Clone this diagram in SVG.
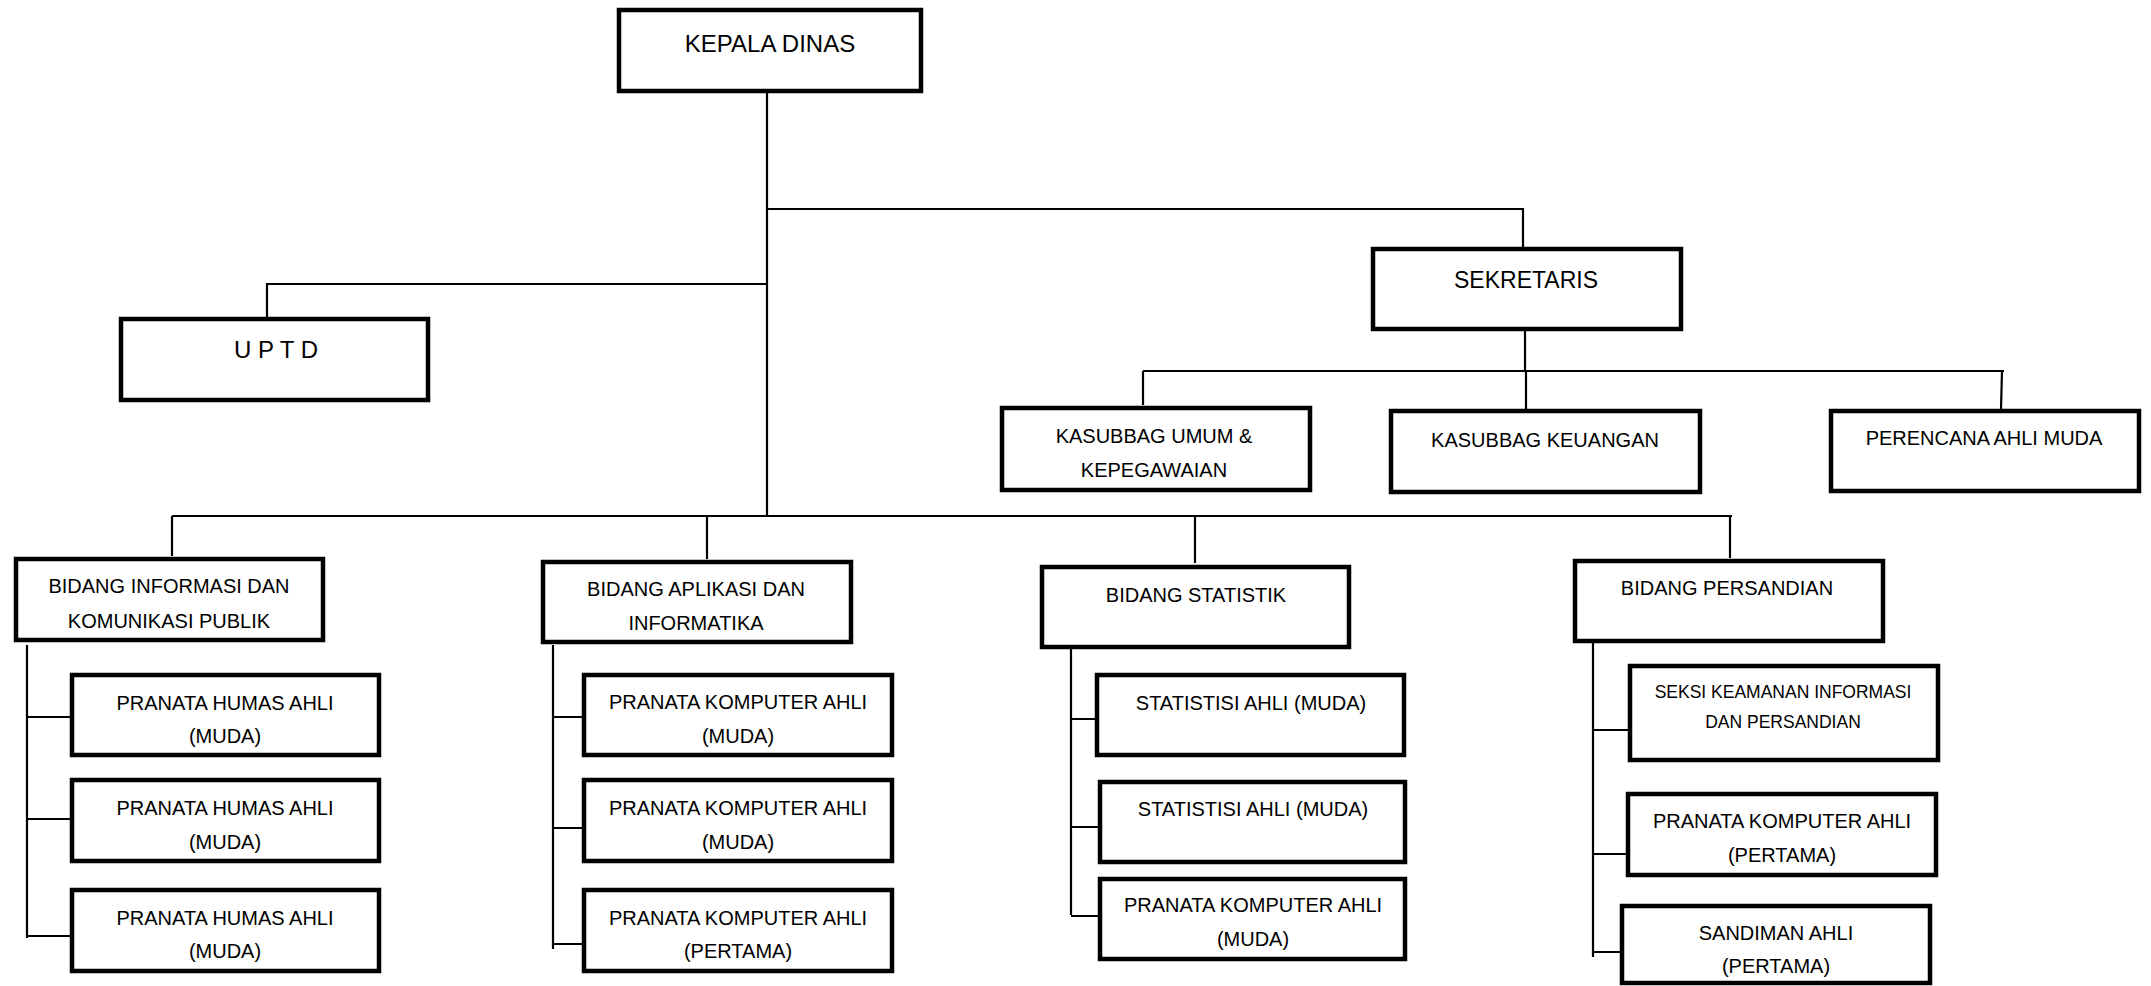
<svg xmlns="http://www.w3.org/2000/svg" width="2151" height="986" viewBox="0 0 2151 986">
<style>
.box{fill:#fff;stroke:#000;stroke-width:4.5}
.con{fill:none;stroke:#000;stroke-width:2.2}
text{font-family:"Liberation Sans",Arial,sans-serif;font-size:20px;fill:#000;text-anchor:middle}
.big{font-size:24px}
.sek{font-size:23px}
.sm{font-size:17.5px}
</style>
<rect width="2151" height="986" fill="#fff"/>
<g id="connectors" class="con">
<path d="M767 93V516"/>
<path d="M767 209H1523V247"/>
<path d="M767 284H267V317"/>
<path d="M1525 331V371"/>
<path d="M1143 371H2004"/>
<path d="M1143 371V405"/>
<path d="M1526 371V409"/>
<path d="M2002 371L2001 409"/>
<path d="M172 516H1732"/>
<path d="M172 516V556"/>
<path d="M707 516V559"/>
<path d="M1195 516V563"/>
<path d="M1730 516V558"/>
<path d="M27 645V938M27 717H70M27 819H70M27 936H70"/>
<path d="M553 645V949M553 717H582M553 828H582M553 944H582"/>
<path d="M1071 649V915M1071 719H1096M1071 827H1098M1071 916H1098"/>
<path d="M1593 643V957M1593 730H1628M1593 854H1626M1593 952H1620"/>
</g>
<g id="kepala"><rect class="box" x="619" y="10" width="302" height="81"/><text class="big" x="770" y="52">KEPALA DINAS</text></g>
<g id="uptd"><rect class="box" x="121" y="319" width="307" height="81"/><text class="big" x="276" y="358">U P T D</text></g>
<g id="sekretaris"><rect class="box" x="1373" y="249" width="308" height="80"/><text class="sek" x="1526" y="288">SEKRETARIS</text></g>
<g id="kasubbag-umum"><rect class="box" x="1002" y="408" width="308" height="82"/><text x="1154" y="443">KASUBBAG UMUM &amp;</text><text x="1154" y="477">KEPEGAWAIAN</text></g>
<g id="kasubbag-keuangan"><rect class="box" x="1391" y="411" width="309" height="81"/><text x="1545" y="447">KASUBBAG KEUANGAN</text></g>
<g id="perencana"><rect class="box" x="1831" y="411" width="308" height="80"/><text x="1984" y="445">PERENCANA AHLI MUDA</text></g>
<g id="bidang-informasi"><rect class="box" x="16" y="559" width="307" height="81"/><text x="169" y="593">BIDANG INFORMASI DAN</text><text x="169" y="628">KOMUNIKASI PUBLIK</text></g>
<g id="bidang-aplikasi"><rect class="box" x="543" y="562" width="308" height="80"/><text x="696" y="596">BIDANG APLIKASI DAN</text><text x="696" y="630">INFORMATIKA</text></g>
<g id="bidang-statistik"><rect class="box" x="1042" y="567" width="307" height="80"/><text x="1196" y="602">BIDANG STATISTIK</text></g>
<g id="bidang-persandian"><rect class="box" x="1575" y="561" width="308" height="80"/><text x="1727" y="595">BIDANG PERSANDIAN</text></g>
<g id="humas1"><rect class="box" x="72" y="675" width="307" height="80"/><text x="225" y="710">PRANATA HUMAS AHLI</text><text x="225" y="743">(MUDA)</text></g>
<g id="humas2"><rect class="box" x="72" y="780" width="307" height="81"/><text x="225" y="815">PRANATA HUMAS AHLI</text><text x="225" y="849">(MUDA)</text></g>
<g id="humas3"><rect class="box" x="72" y="890" width="307" height="81"/><text x="225" y="925">PRANATA HUMAS AHLI</text><text x="225" y="958">(MUDA)</text></g>
<g id="komputer-apl1"><rect class="box" x="584" y="675" width="308" height="80"/><text x="738" y="709">PRANATA KOMPUTER AHLI</text><text x="738" y="743">(MUDA)</text></g>
<g id="komputer-apl2"><rect class="box" x="584" y="780" width="308" height="81"/><text x="738" y="815">PRANATA KOMPUTER AHLI</text><text x="738" y="849">(MUDA)</text></g>
<g id="komputer-apl3"><rect class="box" x="584" y="890" width="308" height="81"/><text x="738" y="925">PRANATA KOMPUTER AHLI</text><text x="738" y="958">(PERTAMA)</text></g>
<g id="statistisi1"><rect class="box" x="1097" y="675" width="307" height="80"/><text x="1251" y="710">STATISTISI AHLI (MUDA)</text></g>
<g id="statistisi2"><rect class="box" x="1100" y="782" width="305" height="80"/><text x="1253" y="816">STATISTISI AHLI (MUDA)</text></g>
<g id="komputer-stat"><rect class="box" x="1100" y="879" width="305" height="80"/><text x="1253" y="912">PRANATA KOMPUTER AHLI</text><text x="1253" y="946">(MUDA)</text></g>
<g id="seksi-keamanan"><rect class="box" x="1630" y="666" width="308" height="94"/><text class="sm" x="1783" y="698">SEKSI KEAMANAN INFORMASI</text><text class="sm" x="1783" y="728">DAN PERSANDIAN</text></g>
<g id="komputer-pers"><rect class="box" x="1628" y="794" width="308" height="81"/><text x="1782" y="828">PRANATA KOMPUTER AHLI</text><text x="1782" y="862">(PERTAMA)</text></g>
<g id="sandiman"><rect class="box" x="1622" y="906" width="308" height="77"/><text x="1776" y="940">SANDIMAN AHLI</text><text x="1776" y="973">(PERTAMA)</text></g>
</svg>
